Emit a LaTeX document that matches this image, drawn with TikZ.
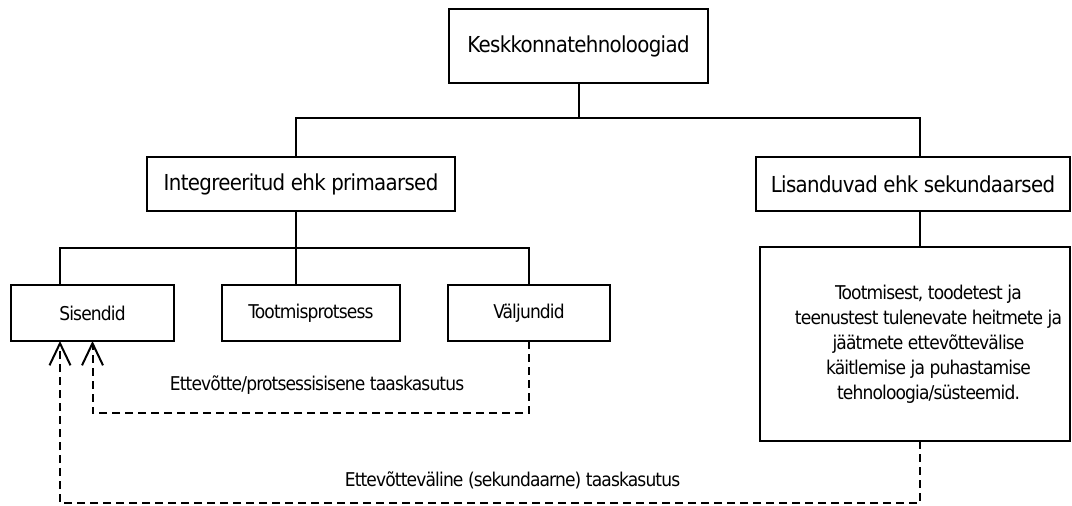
\documentclass[tikz,border=0pt]{standalone}
\usepackage{fontspec}
\setmainfont{DejaVu Sans Condensed}
\newfontfamily\headfont[LetterSpace=-3]{DejaVu Sans Condensed}
\newfontfamily\lowfont[LetterSpace=-4.5]{DejaVu Sans Condensed}
\usetikzlibrary{positioning}
\usetikzlibrary{arrows.meta}
\tikzset{
	box/.style={rectangle, draw, inner sep=0pt, outer sep=0pt, align=center},
	big/.style={box, font=\headfont\fontsize{22}{26}\selectfont},
	small/.style={box, font=\lowfont\fontsize{19}{25}\selectfont, minimum height=56pt},
	lbl/.style={font=\lowfont\fontsize{19}{25}\selectfont},
	reuse/.style={dash pattern=on 8pt off 5pt, -{Straight Barb[length=22pt,width=21pt]}}
}

\begin{document}
\begin{tikzpicture}[x=1pt, y=-1pt, line width=2pt, node distance=48pt and 48pt]
	\useasboundingbox (0,0) rectangle (1072,506);
	% Levels
	\node (kesk) [big, minimum width=259pt, minimum height=74pt] at (578.5,46) {Keskkonnatehnoloogiad};
	\node (integ) [big, minimum width=308pt, minimum height=54pt] at (301,184) {Integreeritud ehk primaarsed};
	\node (lisa) [big, minimum width=314pt, minimum height=54pt] at (913,184) {Lisanduvad ehk sekundaarsed};
	\node (sis) [small, minimum width=163pt] at (92.5,313) {Sisendid};
	\node (toot) [small, minimum width=178pt, right = of sis] {Tootmisprotsess};
	\node (valj) [small, minimum width=162pt, right = of toot] {Väljundid};
	\node (tehno) [box, minimum width=310pt, minimum height=194pt, font=\lowfont\fontsize{19}{25}\selectfont] at (915,344)
		{\hspace*{27pt}\begin{tabular}{@{}c@{}}Tootmisest, toodetest ja\\ teenustest tulenevate heitmete ja\\ jäätmete ettevõttevälise\\ käitlemise ja puhastamise\\ tehnoloogia/süsteemid.\end{tabular}};
	
	% Tree
	\draw (kesk.south) -- ++(0,35) coordinate (j1);
	\draw ([xshift=-5pt]integ.north) |- (j1) -| ([xshift=7pt]lisa.north);
	\draw ([xshift=-5pt]integ.south) -- ++(0,37) coordinate (j2);
	\draw ([xshift=-32.5pt]sis.north) |- (j2) -| (valj.north);
	\draw (j2) -- (j2 |- toot.north);
	\draw ([xshift=7pt]lisa.south) -- ([xshift=5pt]tehno.north);
	
	% Reuse
	\draw[reuse] (valj.south) -- ++(0,72) -| (sis.south);
	\draw[reuse] ([xshift=5pt]tehno.south) -- ++(0,62) -| ([xshift=-32.5pt]sis.south);
	\node (inner) [lbl] at (317,385) {Ettevõtte/protsessisisene taaskasutus};
	\node (outer) [lbl] at (512.5,480) {Ettevõtteväline (sekundaarne) taaskasutus};
\end{tikzpicture}
\end{document}
